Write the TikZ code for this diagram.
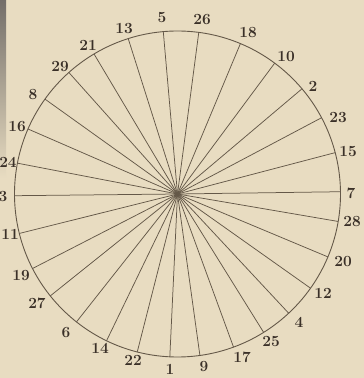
\documentclass[tikz,border=0pt]{standalone}
\definecolor{bg}{RGB}{232,220,193}
\definecolor{linec}{RGB}{100,88,72}
\definecolor{numc}{RGB}{58,48,40}
\definecolor{strip}{RGB}{115,110,105}
\begin{document}
\begin{tikzpicture}[x=1pt,y=1pt,
  spoke/.style={draw=linec, line width=0.75pt},
  rim/.style={draw=linec, line width=0.9pt},
  num/.style={font=\fontsize{15.5}{15.5}\selectfont\bfseries, text=numc, inner sep=0pt}]
\useasboundingbox (0,0) rectangle (364,378);
\fill[bg] (0,0) rectangle (364,378);
\shade[top color=strip, bottom color=bg] (0,200) rectangle (6,378);
\coordinate (O) at (177.5,184);
\foreach \n/\a in {5/95.0, 26/82.5, 18/67.3, 10/53.4, 2/40.2, 23/27.9, 15/14.7,
  7/0.8, 28/-9.7, 20/-22.7, 12/-35.3, 4/-47.0, 25/-58.1, 17/-69.9, 9/-82.1,
  1/-92.7, 22/-104.3, 14/-115.8, 6/-128.3, 27/-141.3, 19/-152.8, 11/-166.0,
  3/180.6, 24/169.1, 16/156.5, 8/144.4, 29/131.8, 21/120.8, 13/107.6}{
  \path (O) ++(\a:163) coordinate (p\n);
  \draw[spoke] (O) -- (p\n);
}
\draw[rim] (O) circle (163);
\foreach \n/\x/\y in {5/162/18, 26/202/20, 18/248/33, 10/286/57, 2/313/86,
  23/338/118, 15/348/152, 7/351/193, 28/352/222, 20/343/262, 12/323/293,
  4/299/322, 25/271/342, 17/242/357, 9/204/367, 1/170/369, 22/133/360,
  14/100/348, 6/66/333, 27/37/303, 19/21/276, 11/10/234, 3/3/197,
  24/8/162, 16/17/127, 8/33/95, 29/60/67, 21/88/45, 13/124/29}{
  \node[num] (l\n) at (\x,{378-\y}) {\n};
}
\end{tikzpicture}
\end{document}
